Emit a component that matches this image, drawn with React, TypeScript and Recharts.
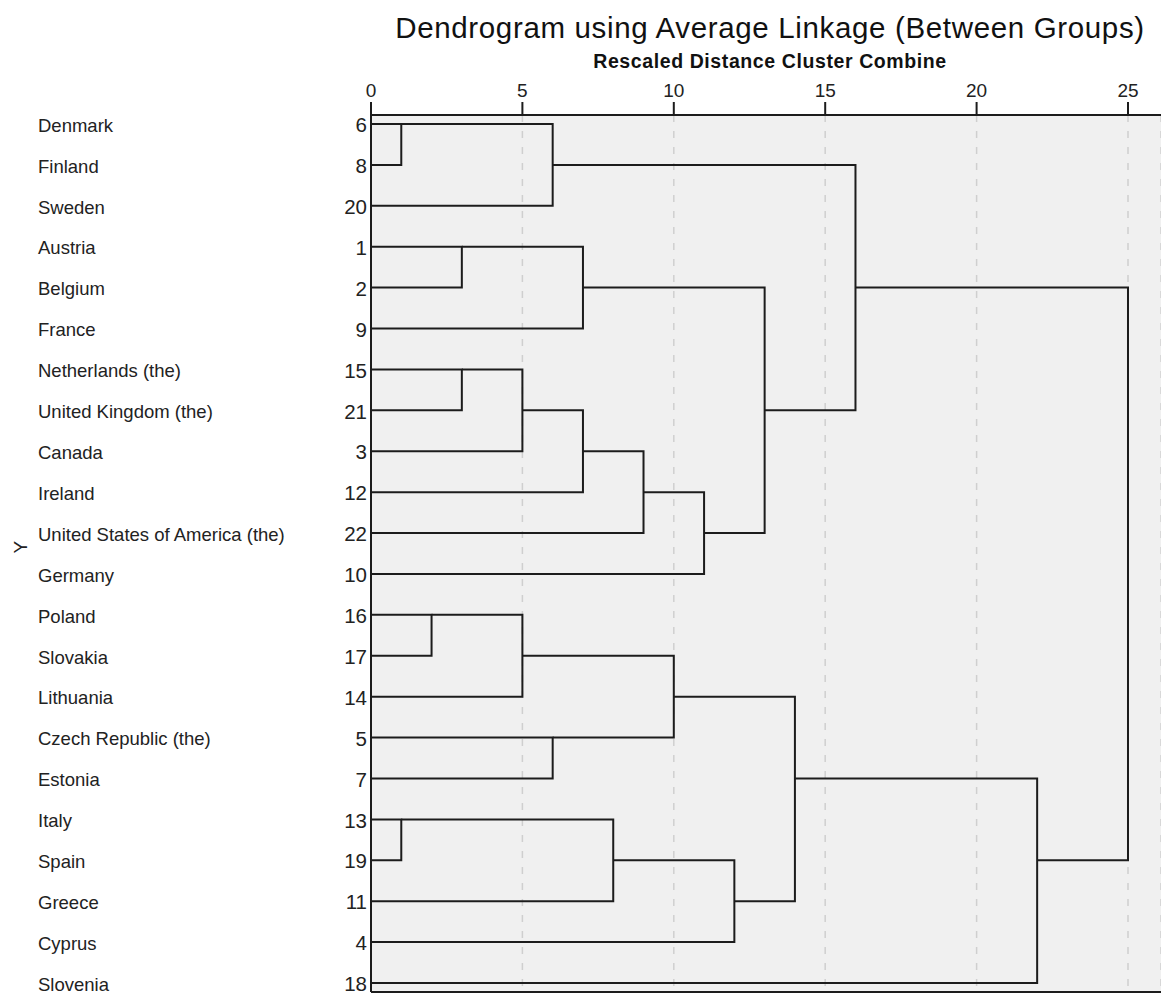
import React from 'react';
import { LineChart, Line, XAxis, YAxis, CartesianGrid } from 'recharts';

const LEAF_NAMES = [
  'Denmark', 'Finland', 'Sweden', 'Austria', 'Belgium', 'France',
  'Netherlands (the)', 'United Kingdom (the)', 'Canada', 'Ireland',
  'United States of America (the)', 'Germany', 'Poland', 'Slovakia',
  'Lithuania', 'Czech Republic (the)', 'Estonia', 'Italy', 'Spain',
  'Greece', 'Cyprus', 'Slovenia',
];
const LEAF_IDS = [6, 8, 20, 1, 2, 9, 15, 21, 3, 12, 22, 10, 16, 17, 14, 5, 7, 13, 19, 11, 4, 18];

// merge steps: two children (L = leaf row, M = earlier merge), rescaled distance, row the joined line sits on
const MERGE_A = ['L0', 'M0', 'L3', 'M2', 'L6', 'M4', 'M5', 'M6', 'M7', 'M3', 'M1', 'L12', 'M11', 'L15', 'M12', 'L17', 'M15', 'M16', 'M14', 'M18', 'M10'];
const MERGE_B = ['L1', 'L2', 'L4', 'L5', 'L7', 'L8', 'L9', 'L10', 'L11', 'M8', 'M9', 'L13', 'L14', 'L16', 'M13', 'L18', 'L19', 'L20', 'M17', 'L21', 'M19'];
const MERGE_DIST = [1, 6, 3, 7, 3, 5, 7, 9, 11, 13, 16, 2, 5, 6, 10, 1, 8, 12, 14, 22, 25];
const MERGE_ROW = [0, 1, 3, 4, 6, 7, 8, 9, 10, 7, 4, 12, 13, 15, 14, 17, 18, 19, 16, 18, 4];

const X_TICKS = [0, 5, 10, 15, 20, 25];
const ROW_TICKS = LEAF_NAMES.map((_, i) => i);

const FONT = '"Liberation Sans", Arial, sans-serif';
const INK = '#1c1c1c';

const nodePos = (ref: string) => {
  const k = Number(ref.slice(1));
  return ref[0] === 'L' ? { x: 0, y: k } : { x: MERGE_DIST[k], y: MERGE_ROW[k] };
};

const links = MERGE_DIST.map((d, i) => {
  const a = nodePos(MERGE_A[i]);
  const b = nodePos(MERGE_B[i]);
  return [
    { x: a.x, y: a.y },
    { x: d, y: a.y },
    { x: d, y: b.y },
    { x: b.x, y: b.y },
  ];
});

const RowTick = ({ x, y, payload }: any) => {
  const i = payload.value as number;
  return (
    <g>
      <text x={38} y={y} dy="0.42em" fontSize={18.5} fill="#222" fontFamily={FONT}>
        {LEAF_NAMES[i]}
      </text>
      <text x={x} y={y} dy="0.4em" textAnchor="end" fontSize={20.5} fill="#222" fontFamily={FONT}>
        {LEAF_IDS[i]}
      </text>
    </g>
  );
};

const Titles = () => (
  <g fontFamily={FONT} fill="#111">
    <text x={770} y={38} textAnchor="middle" fontSize={29.5} letterSpacing={0.65}>
      Dendrogram using Average Linkage (Between Groups)
    </text>
    <text x={770} y={68} textAnchor="middle" fontSize={19.5} fontWeight="bold" letterSpacing={0.6}>
      Rescaled Distance Cluster Combine
    </text>
  </g>
);

export default function App() {
  return (
    <div style={{ width: 1161, height: 996, background: '#fff' }}>
      <style>{`body{margin:0;overflow:hidden}`}</style>
      <LineChart width={1161} height={996} margin={{ top: 0, right: 0, bottom: 2, left: 0 }}>
        <CartesianGrid
          horizontal={false}
          fill="#f0f0f0"
          stroke="#cfcfcf"
          strokeWidth={1.5}
          strokeDasharray="7 9"
        />
        <XAxis
          type="number"
          dataKey="x"
          orientation="top"
          domain={[0, 26.09]}
          ticks={X_TICKS}
          allowDataOverflow
          height={115}
          tickSize={13}
          tickMargin={5}
          stroke={INK}
          axisLine={{ stroke: INK, strokeWidth: 2 }}
          tickLine={{ stroke: INK, strokeWidth: 2 }}
          tick={{ fontSize: 19, fill: '#222', fontFamily: FONT }}
          label={{ content: () => <Titles /> }}
        />
        <XAxis
          xAxisId="frame"
          type="number"
          orientation="bottom"
          domain={[0, 26.09]}
          height={2}
          tick={false}
          tickLine={false}
          axisLine={{ stroke: INK, strokeWidth: 2 }}
        />
        <YAxis
          type="number"
          dataKey="y"
          reversed
          domain={[-0.22, 21.22]}
          ticks={ROW_TICKS}
          interval={0}
          allowDataOverflow
          width={371}
          tickSize={0}
          tickMargin={4}
          tickLine={false}
          axisLine={{ stroke: INK, strokeWidth: 2 }}
          tick={<RowTick />}
          label={{
            value: 'Y',
            angle: -90,
            position: 'insideLeft',
            offset: 20,
            style: { fontSize: 19, fill: '#222', fontFamily: FONT },
          }}
        />
        {links.map((pts, i) => (
          <Line
            key={i}
            data={pts}
            dataKey="y"
            type="linear"
            stroke={INK}
            strokeWidth={2}
            dot={false}
            activeDot={false}
            isAnimationActive={false}
          />
        ))}
      </LineChart>
    </div>
  );
}
